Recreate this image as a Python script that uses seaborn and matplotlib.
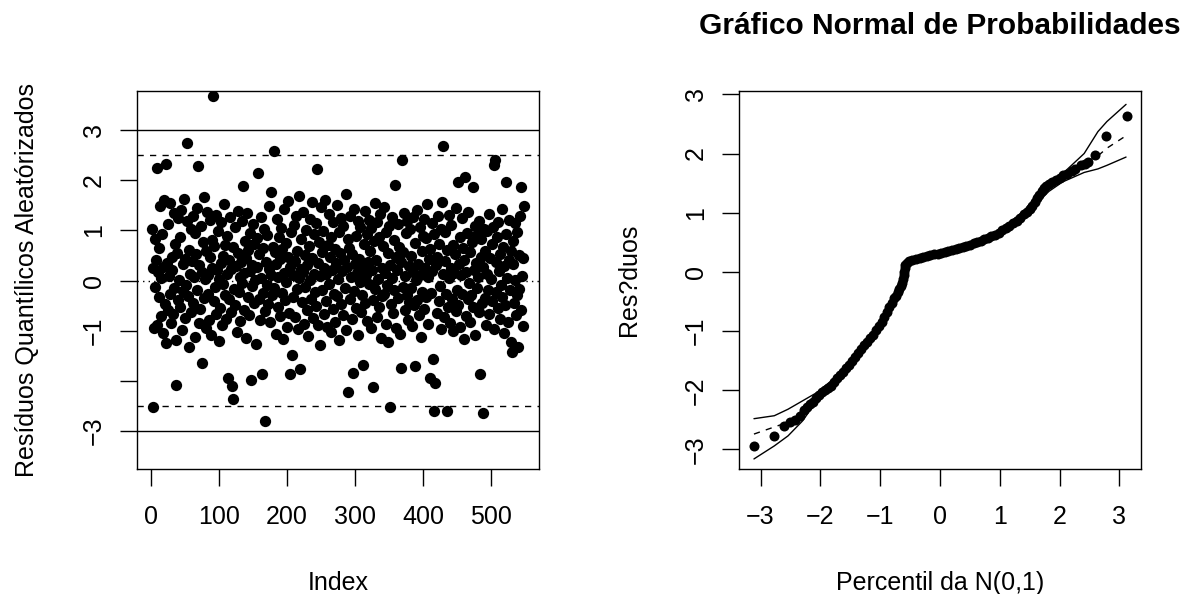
import numpy as np
import pandas as pd
import matplotlib
matplotlib.use('Agg')
import matplotlib.pyplot as plt
import seaborn as sns

# randomized quantile residuals (index 1..549)
resid = [
    1.02, -2.52, 0.25, -0.95, 0.83, -0.12, 0.41, 2.24, -0.88, 0.17,
    0.64, -0.33, 1.48, 0.05, -0.71, 0.92, -1.05, 0.28, 1.61, -0.46,
    -1.24, 2.32, 0.36, -0.58, 1.12, 0.09, -0.27, 1.55, -0.84, 0.48,
    0.21, -0.66, 1.35, -0.15, 0.72, -1.18, -2.08, 0.55, -0.39, 1.24,
    0.02, 0.87, -0.52, 1.41, -0.98, 0.33, -0.21, 1.63, 0.44, -0.74,
    -0.08, 1.18, 2.74, -0.31, 0.61, -1.32, 0.14, 1.03, -0.62, 0.39,
    1.29, -0.44, 0.07, 0.95, -1.12, 0.52, -0.19, 1.45, 2.28, -0.85,
    0.31, -0.57, 1.09, 0.18, -1.65, 0.76, 1.66, -0.35, 0.03, -0.94,
    0.58, 1.37, -0.26, 0.12, -0.79, 1.21, 0.47, -1.08, 0.26, 0.81,
    3.68, -0.41, 0.69, -0.13, 1.31, -0.67, 0.22, 0.98, -1.21, 0.04,
    -0.55, 0.35, 1.16, -0.89, 0.49, -0.06, 1.52, -0.29, 0.71, -0.76,
    0.13, 0.88, -1.95, 0.42, -0.37, 1.27, -0.63, 0.24, -2.10, -2.36,
    0.66, -0.17, 1.07, -0.48, 0.29, -1.02, 0.54, 1.39, -0.22, 0.08,
    -0.81, 0.37, 1.19, -0.05, 1.88, 0.15, -0.58, 0.79, -1.15, 0.46,
    1.34, -0.32, 0.61, -0.69, 0.19, 0.94, -1.98, 0.32, -0.11, 1.13,
    -0.45, 0.72, 0.01, -1.26, 0.85, 0.27, 2.14, -0.36, 0.53, -0.78,
    1.26, 0.06, -1.86, 0.64, -0.24, 1.02, -0.61, -2.80, 0.38, -0.09,
    0.91, -0.47, 0.23, 1.48, -0.83, 1.77, 0.11, -0.28, 0.67, 2.58,
    -0.14, 0.56, -1.07, 0.34, 1.23, -0.53, 0.08, 0.86, -0.71, 0.43,
    1.05, -0.25, 0.62, -1.17, 0.16, 1.42, -0.38, 0.74, -0.02, -0.93,
    0.47, 1.58, -0.64, -1.87, 0.28, 0.97, -1.49, 0.12, -0.33, 1.11,
    -0.72, 0.39, 1.28, -0.16, 0.58, -0.97, 0.05, 1.68, -1.77, 0.24,
    0.82, -0.43, 0.18, 1.36, -0.86, 0.51, -0.12, 1.01, 0.31, -0.59,
    -1.11, 0.69, 0.02, 1.22, -0.36, 0.45, 1.57, -0.75, 0.14, 0.93,
    -0.23, 1.14, -0.51, 2.22, 0.36, -0.89, 0.76, 0.09, -1.29, 1.46,
    0.57, -0.18, 0.99, -0.66, 0.25, 1.61, -0.41, 0.13, -0.92, 0.71,
    1.33, -0.07, 0.48, -1.03, 0.87, 0.21, -0.56, 1.17, -0.27, 0.62,
    -0.82, 0.35, 1.51, -0.31, 0.04, 0.96, -1.19, 0.55, 1.25, -0.46,
    0.19, -0.68, 1.08, 0.41, -0.15, 1.72, -0.99, 0.27, 0.83, -2.22,
    0.64, -0.37, 1.29, 0.07, -0.77, 0.52, -1.84, 1.43, -0.21, 0.33,
    0.89, -0.54, 0.16, 1.19, -1.08, 0.44, -0.03, 1.06, -0.63, 0.28,
    -0.29, -1.68, 0.73, 1.38, -0.44, 0.11, 0.92, -0.81, 0.37, 1.21,
    -0.06, 0.59, -0.95, 1.04, 0.22, -0.39, -2.12, 0.78, 1.55, -0.17,
    0.41, -0.72, 1.16, 0.03, -0.52, 0.86, 1.32, -1.14, 0.26, -0.31,
    0.68, 1.47, -0.26, 0.15, -0.87, 0.97, -0.09, 0.54, -1.23, 1.09,
    -2.52, 0.32, -0.47, 1.27, 0.06, -0.64, 0.81, -0.18, 1.90, 0.47,
    -0.95, 0.21, 1.12, -0.34, 0.66, -1.06, 0.38, -1.75, 2.40, -0.12,
    0.57, 1.35, -0.58, 0.09, 0.94, -0.28, 1.18, -0.79, 0.29, -0.43,
    1.03, -0.15, 0.49, -0.91, 1.26, 0.17, -0.49, -1.71, 0.75, 0.02,
    -0.38, 1.41, 0.34, -0.69, 0.12, 1.07, -1.13, 0.58, -0.22, 0.88,
    1.22, -0.57, 0.26, 0.84, -0.33, 1.53, -0.86, 0.07, 0.43, -1.95,
    0.63, -0.24, 1.15, 0.19, -1.56, -2.60, 0.92, -2.05, 0.31, -0.65,
    0.48, 1.28, -0.41, 0.73, -0.11, -0.96, 1.02, 1.56, 2.68, 0.14,
    -0.73, 0.39, 0.97, -0.27, -2.60, 0.61, -0.52, 1.31, 0.05, -0.84,
    0.25, 1.11, -0.36, 0.71, -1.01, 0.16, 0.53, -0.61, 1.44, -0.19,
    1.96, -0.48, 0.33, 0.87, -0.93, 0.11, 1.24, -0.26, 0.64, -1.16,
    0.42, 2.06, -0.71, 0.18, 0.95, -0.37, 1.37, -0.04, -0.82, 0.56,
    -0.29, 0.76, 1.86, -0.53, 0.22, 1.09, -1.09, 0.35, -0.14, 0.91,
    0.08, -0.62, 1.19, -1.86, 0.47, 0.82, -0.45, -2.64, 0.27, 1.02,
    -0.34, 0.59, -0.88, 0.99, 0.13, -0.18, 1.33, -0.67, 0.45, 0.04,
    0.73, -0.41, 1.06, -0.97, 2.30, 2.40, -0.23, 0.38, 0.86, -0.55,
    1.17, 0.19, -0.76, 0.52, -0.08, 1.42, -0.32, 0.66, -1.04, 0.29,
    -0.49, 0.93, 1.96, 0.06, -0.83, 0.41, 1.21, -0.19, 0.58, -1.22,
    -1.42, 0.34, 0.79, -0.44, 1.14, 0.02, -0.69, 0.97, -0.28, -1.32,
    0.51, -0.16, 1.28, -0.58, 1.86, 0.09, -0.91, 0.46, 1.49,
]
index = list(range(1, len(resid) + 1))

# normal probability plot: points along the curve (percentil, residuo)
qq_x = [-3.11, -2.78, -2.61, -2.50, -2.42, -2.34, -2.27, -2.22, -2.17, -2.12,
        -2.07, -2.02, -1.97, -1.92, -1.87, -1.82, -1.77, -1.72, -1.67, -1.62,
        -1.57, -1.52, -1.47, -1.42, -1.37, -1.32, -1.27, -1.22, -1.17, -1.12,
        -1.07, -1.02, -0.97, -0.93, -0.89, -0.85, -0.81, -0.77, -0.74, -0.71,
        -0.68, -0.66, -0.64, -0.62, -0.61, -0.60, -0.59, -0.58, -0.56, -0.52,
        -0.46, -0.40, -0.34, -0.28, -0.22, -0.16, -0.10, -0.04, 0.02, 0.08,
        0.14, 0.20, 0.26, 0.32, 0.38, 0.44, 0.50, 0.56, 0.62, 0.68,
        0.74, 0.80, 0.86, 0.92, 0.98, 1.04, 1.10, 1.16, 1.22, 1.28,
        1.34, 1.40, 1.45, 1.50, 1.54, 1.58, 1.62, 1.66, 1.70, 1.74,
        1.78, 1.83, 1.88, 1.94, 2.00, 2.06, 2.13, 2.20, 2.26, 2.35,
        2.42, 2.48, 2.59, 2.77, 3.12]
qq_y = [-2.94, -2.78, -2.60, -2.54, -2.50, -2.44, -2.33, -2.29, -2.24, -2.20,
        -2.13, -2.08, -2.03, -1.99, -1.96, -1.92, -1.86, -1.80, -1.75, -1.69,
        -1.63, -1.57, -1.50, -1.43, -1.37, -1.30, -1.24, -1.18, -1.12, -1.06,
        -0.99, -0.92, -0.84, -0.76, -0.68, -0.60, -0.52, -0.44, -0.40, -0.34,
        -0.29, -0.24, -0.18, -0.12, -0.06, 0.00, 0.06, 0.11, 0.15, 0.18,
        0.20, 0.22, 0.235, 0.25, 0.265, 0.28, 0.295, 0.31, 0.325, 0.34,
        0.355, 0.37, 0.385, 0.40, 0.42, 0.44, 0.46, 0.48, 0.50, 0.525,
        0.55, 0.575, 0.60, 0.63, 0.66, 0.70, 0.74, 0.78, 0.82, 0.86,
        0.91, 0.97, 1.02, 1.07, 1.12, 1.18, 1.24, 1.30, 1.36, 1.41,
        1.45, 1.49, 1.52, 1.55, 1.59, 1.63, 1.66, 1.70, 1.73, 1.80,
        1.83, 1.85, 1.97, 2.29, 2.63]

# simulated envelope
env_x = [-3.11, -2.77, -2.54, -2.30, -2.06, -1.83, -1.60, -1.36, -1.12, -0.89,
         -0.72, -0.64, -0.60, -0.58, -0.55, -0.30, 0.00, 0.50, 1.00, 1.41,
         1.64, 1.82, 2.05, 2.23, 2.41, 2.64, 2.79, 3.11]
env_upper = [-2.48, -2.43, -2.32, -2.18, -2.04, -1.85, -1.62, -1.30, -1.01, -0.62,
             -0.28, -0.10, 0.03, 0.13, 0.19, 0.26, 0.34, 0.48, 0.70, 1.04,
             1.32, 1.52, 1.66, 1.83, 2.00, 2.37, 2.54, 2.83]
env_lower = [-3.16, -2.94, -2.77, -2.52, -2.18, -1.98, -1.72, -1.40, -1.11, -0.72,
             -0.36, -0.20, -0.06, 0.06, 0.14, 0.22, 0.30, 0.44, 0.66, 0.96,
             1.18, 1.36, 1.52, 1.60, 1.68, 1.74, 1.80, 1.94]
env_mid = [-2.74, -2.62, -2.54, -2.34, -2.10, -1.92, -1.67, -1.35, -1.06, -0.67,
           -0.32, -0.15, -0.02, 0.10, 0.17, 0.24, 0.32, 0.46, 0.68, 1.00,
           1.26, 1.45, 1.59, 1.73, 1.84, 1.96, 2.09, 2.30]

sns.set_theme(style='ticks')
plt.rcParams['font.family'] = ['Liberation Sans', 'DejaVu Sans']
plt.rcParams['axes.unicode_minus'] = True
plt.rcParams['text.color'] = 'black'
plt.rcParams['axes.labelcolor'] = 'black'

W, H = 1193, 594
fig = plt.figure(figsize=(W / 100, H / 100), dpi=100)
ax1 = fig.add_axes([137 / W, 1 - 469 / H, 402 / W, 378 / H])
ax2 = fig.add_axes([739 / W, 1 - 469 / H, 402 / W, 378 / H])

dash = (0, (4.5, 4.5))

# left panel
df1 = pd.DataFrame({'Index': index, 'resid': resid})
sns.scatterplot(data=df1, x='Index', y='resid', color='black', s=66,
                linewidth=0, ax=ax1)
for h in (3, -3):
    ax1.axhline(h, color='black', lw=1.0)
for h in (2.5, -2.5):
    ax1.axhline(h, color='black', lw=1.0, ls=dash)
ax1.axhline(0, color='black', lw=1.0, ls=(0, (1, 3)))
ax1.set_xlim(-21, 570.9)
ax1.set_ylim(-3.757, 3.78)
ax1.set_xticks([0, 100, 200, 300, 400, 500])
ax1.set_yticks([-3, -2, -1, 0, 1, 2, 3])
ax1.set_yticklabels(['\u22123', '', '\u22121', '0', '1', '2', '3'])
ax1.set_xlabel('Index', color='black')
ax1.set_ylabel('Resíduos Quantílicos Aleatórizados', color='black')

# right panel
df2 = pd.DataFrame({'x': qq_x, 'y': qq_y})
sns.scatterplot(data=df2, x='x', y='y', color='black', s=52, linewidth=0, ax=ax2)
sns.lineplot(x=env_x, y=env_upper, color='black', lw=1.0, ax=ax2)
sns.lineplot(x=env_x, y=env_lower, color='black', lw=1.0, ax=ax2)
sns.lineplot(x=env_x, y=env_mid, color='black', lw=1.0, ls=dash, ax=ax2)
ax2.set_xlim(-3.36, 3.36)
ax2.set_ylim(-3.33, 3.056)
ax2.set_xticks([-3, -2, -1, 0, 1, 2, 3])
ax2.set_yticks([-3, -2, -1, 0, 1, 2, 3])
ax2.set_xlabel('Percentil da N(0,1)', color='black')
ax2.set_ylabel('Res?duos', color='black')
ax2.set_title('Gráfico Normal de Probabilidades', fontsize=21.5, color='black',
              fontweight='bold', y=1 + 65 / 378, pad=0, va='center')

for ax in (ax1, ax2):
    for sp in ax.spines.values():
        sp.set_visible(True)
        sp.set_color('black')
        sp.set_linewidth(1.0)
    ax.tick_params(axis='both', direction='out', length=12, width=1.0,
                   color='black', labelsize=18, labelcolor='black')
    ax.tick_params(axis='x', pad=14)
    ax.tick_params(axis='y', pad=10.5)
    for lab in ax.get_yticklabels():
        lab.set_rotation(90)
        lab.set_va('center')
    ax.xaxis.label.set_size(18)
    ax.yaxis.label.set_size(18)
    ax.xaxis.label.set_va('center')
    ax.yaxis.label.set_va('center')
    ax.xaxis.set_label_coords(0.5, -114 / 378)
    ax.yaxis.set_label_coords(-110 / 402, 0.5)
    ax.grid(False)

fig.savefig('out.png', dpi=100)
